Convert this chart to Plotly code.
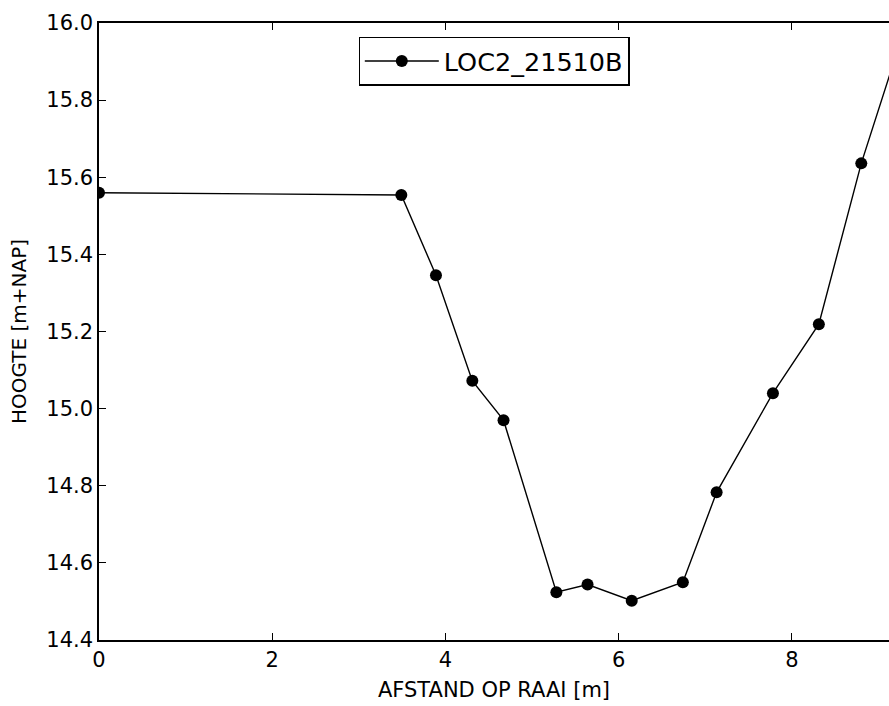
import plotly.graph_objects as go

# Data
afstand = [0.0, 3.49, 3.89, 4.31, 4.67, 5.28, 5.64, 6.15, 6.74, 7.13, 7.78, 8.31, 8.80, 9.20]
hoogte = [15.560, 15.554, 15.346, 15.072, 14.970, 14.524, 14.544, 14.502, 14.550, 14.783, 15.040, 15.219, 15.636, 15.916]
series_name = "LOC2_21510B"
x_ticks = [0, 2, 4, 6, 8]
y_ticks = [14.4, 14.6, 14.8, 15.0, 15.2, 15.4, 15.6, 15.8, 16.0]

font_family = "DejaVu Sans, Bitstream Vera Sans, sans-serif"

fig = go.Figure()
fig.add_trace(go.Scatter(
    x=afstand, y=hoogte, mode="lines+markers", name=series_name,
    line=dict(color="black", width=1.4),
    marker=dict(color="black", size=12),
    cliponaxis=True,
))

fig.update_layout(
    width=889, height=706,
    margin=dict(l=99, r=0, t=23, b=66, pad=0),
    paper_bgcolor="white", plot_bgcolor="white",
    font=dict(family=font_family, color="black", size=21),
    showlegend=True,
    legend=dict(
        x=0.5, xanchor="center", y=0.978, yanchor="top",
        bordercolor="black", borderwidth=1.3, bgcolor="white",
        font=dict(size=25.5), itemwidth=74,
    ),
)

fig.update_xaxes(
    range=[0, 9.12], tickvals=x_ticks, ticktext=[str(v) for v in x_ticks],
    showgrid=False, zeroline=False,
    showline=True, linecolor="black", linewidth=1.5, mirror="ticks",
    ticks="inside", ticklen=7, tickwidth=1, tickcolor="black",
    tickfont=dict(size=21),
    title=dict(text="AFSTAND OP RAAI [m]", font=dict(size=21), standoff=11),
)
fig.update_yaxes(
    range=[14.4, 16.0], tickvals=y_ticks, ticktext=[f"{v:.1f}" for v in y_ticks],
    showgrid=False, zeroline=False,
    showline=True, linecolor="black", linewidth=1.5, mirror=False,
    ticks="inside", ticklen=7, tickwidth=1, tickcolor="black",
    tickfont=dict(size=21),
    title=dict(text="HOOGTE [m+NAP]", font=dict(size=20), standoff=14),
)

fig.write_html("out.html")
